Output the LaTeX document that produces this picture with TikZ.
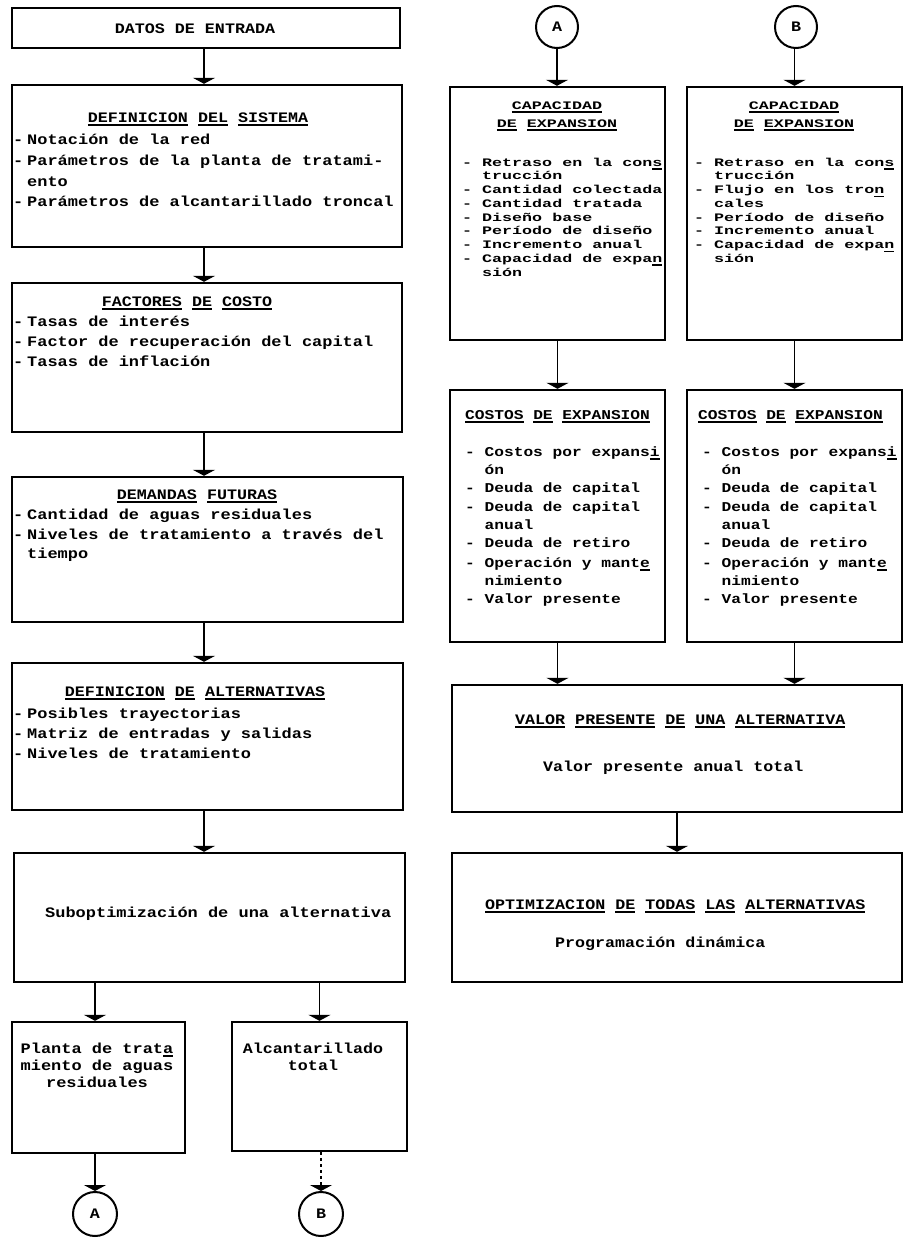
\documentclass[tikz,border=0pt]{standalone}
\usepackage{fontspec}
\usetikzlibrary{arrows.meta}
% typewriter-like faces at several widths
\newfontfamily\twA[FakeStretch=1.15]{Liberation Mono}
\newfontfamily\twL[FakeStretch=1.17]{Liberation Mono}
\newfontfamily\twB[FakeStretch=1.2]{Liberation Mono}
\newfontfamily\twC[FakeStretch=1.45]{Liberation Mono}
% heavy underline for single words
\newcommand\uword[1]{\leavevmode\setbox0\hbox{#1}\rlap{\rule[-3.5pt]{\wd0}{1.4pt}}\box0\relax}
% list item with a short dash, and its continuation line
\newcommand\itm[1]{\makebox[14pt][l]{-}#1}
\newcommand\cnt[1]{\hspace*{14pt}#1}
% rectangle node from its corners (x1,y1) (x2,y2)
\newcommand\mkbox[5]{\node[box, minimum width={(#4-#2)*1pt}, minimum height={(#5-#3)*1pt}] (#1) at ({(#2+#4)/2},{(#3+#5)/2}) {};}
\tikzset{
  box/.style={draw, line width=2.4pt, inner sep=0pt},
  circ/.style={draw, circle, line width=2pt, inner sep=0pt, minimum size=44pt, fA},
  fA/.style={font=\twA\bfseries\fontsize{14.5}{17}\selectfont},
  fL/.style={font=\twL\bfseries\fontsize{14.5}{17}\selectfont},
  fB/.style={font=\twB\bfseries\fontsize{13.5}{16}\selectfont},
  fC/.style={font=\twC\bfseries\fontsize{11.5}{14}\selectfont},
  ln/.style={inner sep=0pt, anchor=base west},
  ttl/.style={inner sep=0pt, anchor=base},
  flow/.style={line width=1.7pt, -{Triangle[width=22pt,length=6pt]}},
}
\begin{document}
\begin{tikzpicture}[x=1pt,y=-1pt]
\fill[white] (0,0) rectangle (904,1239);
\useasboundingbox (0,0) rectangle (904,1239);

% ---------------- left column ----------------
\mkbox{b1}{12}{8}{400}{48}
\node[fA,ttl] (b1t) at (195,34) {DATOS DE ENTRADA};

\mkbox{b2}{12}{85}{402}{247}
\node[fA,ttl] (b2t) at (198,122) {\uword{DEFINICION} \uword{DEL} \uword{SISTEMA}};
\node[fL,ln] (b2a) at (13,144) {\itm{Notación de la red}};
\node[fL,ln] (b2b) at (13,165) {\itm{Parámetros de la planta de tratami-}};
\node[fL,ln] (b2c) at (13,186) {\cnt{ento}};
\node[fL,ln] (b2d) at (13,206) {\itm{Parámetros de alcantarillado troncal}};

\mkbox{b3}{12}{283}{402}{432}
\node[fA,ttl] (b3t) at (187,306) {\uword{FACTORES} \uword{DE} \uword{COSTO}};
\node[fL,ln] (b3a) at (13,326) {\itm{Tasas de interés}};
\node[fL,ln] (b3b) at (13,346) {\itm{Factor de recuperación del capital}};
\node[fL,ln] (b3c) at (13,366) {\itm{Tasas de inflación}};

\mkbox{b4}{12}{477}{403}{622}
\node[fA,ttl] (b4t) at (197,499) {\uword{DEMANDAS} \uword{FUTURAS}};
\node[fL,ln] (b4a) at (13,519) {\itm{Cantidad de aguas residuales}};
\node[fL,ln] (b4b) at (13,539) {\itm{Niveles de tratamiento a través del}};
\node[fL,ln] (b4c) at (13,558) {\cnt{tiempo}};

\mkbox{b5}{12}{663}{403}{810}
\node[fA,ttl] (b5t) at (195,696) {\uword{DEFINICION} \uword{DE} \uword{ALTERNATIVAS}};
\node[fL,ln] (b5a) at (13,718) {\itm{Posibles trayectorias}};
\node[fL,ln] (b5b) at (13,738) {\itm{Matriz de entradas y salidas}};
\node[fL,ln] (b5c) at (13,758) {\itm{Niveles de tratamiento}};

\mkbox{b6}{14}{853}{405}{982}
\node[fL,ln] (b6t) at (45,917) {Suboptimización de una alternativa};

\mkbox{b7}{12}{1022}{185}{1153}
\node[fL,ttl] (b7a) at (97,1053) {Planta de trat\uword{a}};
\node[fL,ttl] (b7b) at (97,1070) {miento de aguas};
\node[fL,ttl] (b7c) at (97,1087) {residuales};

\mkbox{b8}{232}{1022}{407}{1151}
\node[fA,ttl] (b8a) at (313,1053) {Alcantarillado};
\node[fA,ttl] (b8b) at (313,1070) {total};

\node[circ] (ca) at (95,1214) {A};
\node[circ] (cb) at (321,1214) {B};

% ---------------- right column ----------------
\node[circ, minimum size=42pt] (ta) at (557,27) {A};
\node[circ, minimum size=42pt] (tb) at (796,27) {B};

\mkbox{capA}{450}{87}{665}{340}
\node[fC,ttl] (capAt1) at (557,109) {\uword{CAPACIDAD}};
\node[fC,ttl] (capAt2) at (557,127) {\uword{DE} \uword{EXPANSION}};
\node[fC,ln] (capA1) at (462,166)    {- Retraso en la con\uword{s}};
\node[fC,ln] (capA2) at (462,179.75) {\phantom{- }trucción};
\node[fC,ln] (capA3) at (462,193.5)  {- Cantidad colectada};
\node[fC,ln] (capA4) at (462,207.25) {- Cantidad tratada};
\node[fC,ln] (capA5) at (462,221)    {- Diseño base};
\node[fC,ln] (capA6) at (462,234.75) {- Período de diseño};
\node[fC,ln] (capA7) at (462,248.5)  {- Incremento anual};
\node[fC,ln] (capA8) at (462,262.25) {- Capacidad de expa\uword{n}};
\node[fC,ln] (capA9) at (462,276)    {\phantom{- }sión};

\mkbox{capB}{687}{87}{902}{340}
\node[fC,ttl] (capBt1) at (794,109) {\uword{CAPACIDAD}};
\node[fC,ttl] (capBt2) at (794,127) {\uword{DE} \uword{EXPANSION}};
\node[fC,ln] (capB1) at (694,166)    {- Retraso en la con\uword{s}};
\node[fC,ln] (capB2) at (694,179.75) {\phantom{- }trucción};
\node[fC,ln] (capB3) at (694,193.5)  {- Flujo en los tro\uword{n}};
\node[fC,ln] (capB4) at (694,207.25) {\phantom{- }cales};
\node[fC,ln] (capB5) at (694,221)    {- Período de diseño};
\node[fC,ln] (capB6) at (694,234.75) {- Incremento anual};
\node[fC,ln] (capB7) at (694,248.5)  {- Capacidad de expa\uword{n}};
\node[fC,ln] (capB8) at (694,262.25) {\phantom{- }sión};

\mkbox{costA}{450}{390}{665}{642}
\node[fB,ln] (costAt) at (465,419) {\uword{COSTOS} \uword{DE} \uword{EXPANSION}};
\node[fB,ln] (costA1) at (465,456) {- Costos por expans\uword{i}};
\node[fB,ln] (costA2) at (465,474) {\phantom{- }ón};
\node[fB,ln] (costA3) at (465,492) {- Deuda de capital};
\node[fB,ln] (costA4) at (465,511) {- Deuda de capital};
\node[fB,ln] (costA5) at (465,529) {\phantom{- }anual};
\node[fB,ln] (costA6) at (465,547) {- Deuda de retiro};
\node[fB,ln] (costA7) at (465,567) {- Operación y mant\uword{e}};
\node[fB,ln] (costA8) at (465,585) {\phantom{- }nimiento};
\node[fB,ln] (costA9) at (465,603) {- Valor presente};

\mkbox{costB}{687}{390}{902}{642}
\node[fB,ln] (costBt) at (698,419) {\uword{COSTOS} \uword{DE} \uword{EXPANSION}};
\node[fB,ln] (costB1) at (702,456) {- Costos por expans\uword{i}};
\node[fB,ln] (costB2) at (702,474) {\phantom{- }ón};
\node[fB,ln] (costB3) at (702,492) {- Deuda de capital};
\node[fB,ln] (costB4) at (702,511) {- Deuda de capital};
\node[fB,ln] (costB5) at (702,529) {\phantom{- }anual};
\node[fB,ln] (costB6) at (702,547) {- Deuda de retiro};
\node[fB,ln] (costB7) at (702,567) {- Operación y mant\uword{e}};
\node[fB,ln] (costB8) at (702,585) {\phantom{- }nimiento};
\node[fB,ln] (costB9) at (702,603) {- Valor presente};

\mkbox{valor}{452}{685}{902}{812}
\node[fA,ln] (valort) at (515,724) {\uword{VALOR} \uword{PRESENTE} \uword{DE} \uword{UNA} \uword{ALTERNATIVA}};
\node[fA,ln] (valora) at (543,771) {Valor presente anual total};

\mkbox{opt}{452}{853}{902}{982}
\node[fA,ln] (optt) at (485,909) {\uword{OPTIMIZACION} \uword{DE} \uword{TODAS} \uword{LAS} \uword{ALTERNATIVAS}};
\node[fA,ln] (opta) at (555,947) {Programación dinámica};

% ---------------- connectors ----------------
\coordinate (xL) at (204,0);
\draw[flow] (b1.south -| xL) -- (b2.north -| xL);
\draw[flow] (b2.south -| xL) -- (b3.north -| xL);
\draw[flow] (b3.south -| xL) -- (b4.north -| xL);
\draw[flow] (b4.south -| xL) -- (b5.north -| xL);
\draw[flow] (b5.south -| xL) -- (b6.north -| xL);
\draw[flow] (b6.south -| ca) -- (b7.north -| ca);
\draw[flow] (b6.south -| b8) -- (b8.north);
\draw[flow] (b7.south -| ca) -- (ca.north);
\draw[flow, dash pattern=on 3pt off 3pt] (b8.south -| cb) -- (cb.north);

\draw[flow] (ta.south) -- (capA.north -| ta);
\draw[flow] (tb.south -| capB) -- (capB.north);
\draw[flow] (capA.south) -- (costA.north);
\draw[flow] (capB.south) -- (costB.north);
\draw[flow] (costA.south) -- (valor.north -| costA);
\draw[flow] (costB.south) -- (valor.north -| costB);
\draw[flow] (valor.south) -- (opt.north);
\end{tikzpicture}
\end{document}
